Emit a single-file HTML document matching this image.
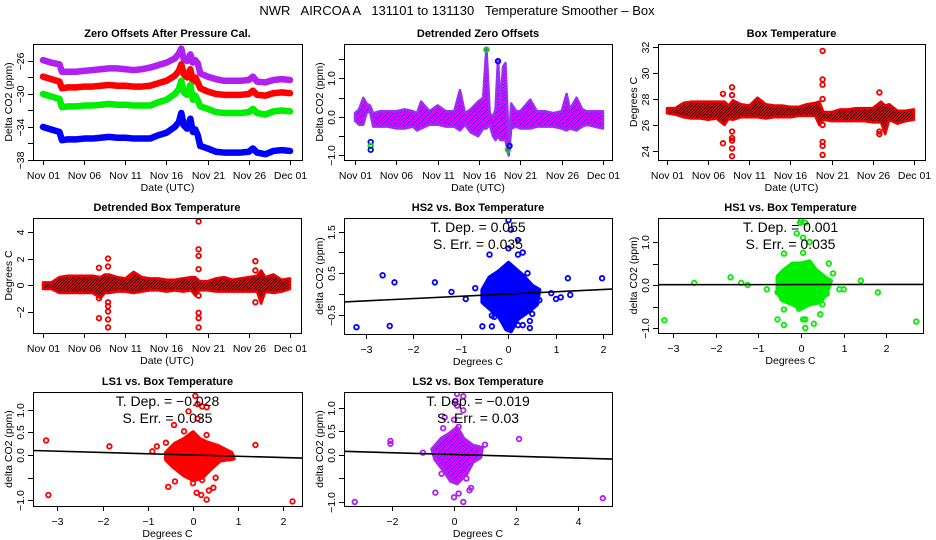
<!DOCTYPE html>
<html><head><meta charset="utf-8"><style>
html,body{margin:0;padding:0;background:#fff;}
svg{display:block;font-family:"Liberation Sans",sans-serif;}
</style></head><body>
<svg id="fig" width="936" height="540" viewBox="0 0 936 540" xmlns="http://www.w3.org/2000/svg">
<defs>
<pattern id="pRB" width="3" height="3" patternUnits="userSpaceOnUse"><rect width="3" height="3" fill="#e00000"/><rect x="1" y="1" width="1" height="1" fill="#000"/><rect x="2" y="0" width="1" height="1" fill="#000"/><rect x="0" y="2" width="1" height="1" fill="#000"/></pattern>
<pattern id="pPU" width="3" height="3" patternUnits="userSpaceOnUse"><rect width="3" height="3" fill="#ff00ff"/><rect x="1" y="1" width="1" height="1" fill="#3020ff"/><rect x="2" y="0" width="1" height="1" fill="#3020ff"/><rect x="0" y="2" width="1" height="1" fill="#3020ff"/></pattern>
</defs>
<text x="457" y="15" font-size="13" text-anchor="middle" style="white-space:pre" xml:space="preserve">NWR   AIRCOA A   131101 to 131130   Temperature Smoother – Box</text>
</svg>
<script>
// ---- data: zero offsets (panel 1) ----
const zoDays = [0,1,2,2.3,3,4,5,6,7,8,9,10,11,12,13,14,15,16,16.5,16.8,17.1,17.5,17.9,18.2,18.5,18.8,19.1,20,21,22,23,24,25,25.5,26,27,28,29,30];
const zoBlue = [-34,-34.3,-34.6,-35.6,-35.5,-35.5,-35.4,-35.4,-35.3,-35.2,-35.3,-35.3,-35.4,-35.4,-35.4,-35.0,-34.7,-34.0,-33.4,-32.3,-33.8,-34.2,-33.0,-34.6,-34.3,-35.0,-36.3,-36.6,-37.0,-37.1,-37.1,-37.1,-37.0,-36.6,-37.1,-37.3,-36.9,-36.8,-36.9];
const zoGreen = [-30,-30.3,-30.6,-31.6,-31.5,-31.5,-31.4,-31.4,-31.3,-31.2,-31.3,-31.3,-31.4,-31.4,-31.4,-31.0,-30.7,-30.0,-29.4,-28.4,-29.8,-30.1,-28.9,-30.7,-30.2,-30.8,-31.5,-31.8,-32.2,-32.3,-32.3,-32.3,-32.2,-31.8,-32.3,-32.5,-32.1,-32.0,-32.1];
const zoRed = [-27.9,-28.2,-28.5,-29.3,-29.2,-29.2,-29.1,-29.1,-29.0,-28.9,-29.0,-29.0,-29.1,-29.1,-29.0,-28.7,-28.4,-27.8,-27.2,-26.4,-27.6,-28.0,-27.0,-28.5,-28.0,-28.6,-29.3,-29.7,-30.0,-30.1,-30.1,-30.1,-30.0,-29.6,-30.1,-30.2,-29.9,-29.8,-29.9];
const zoPurple = [-25.9,-26.2,-26.4,-27.3,-27.3,-27.3,-27.2,-27.1,-27.0,-26.9,-26.9,-27.0,-27.1,-27.0,-26.8,-26.5,-26.2,-25.7,-25.1,-24.5,-25.8,-26.0,-25.2,-26.2,-25.9,-26.3,-27.5,-27.9,-28.2,-28.4,-28.4,-28.4,-28.3,-27.9,-28.5,-28.6,-28.3,-28.2,-28.3];
// ---- detrended zero offsets (panel 2) ----
const dzDays = [0,0.5,1.0,1.4,1.8,2.2,3,4,5,6,7,7.5,8,9,10,11,12,12.7,13.3,14,14.9,15.5,15.9,16.3,16.7,17.0,17.3,17.6,17.9,18.2,18.6,18.9,19.5,20,21.2,22,23,24,25,25.6,26,26.8,27.5,28,29,30];
const dzLo = [-0.1,-0.2,-0.2,0.1,0.15,-0.25,-0.25,-0.25,-0.3,-0.3,-0.25,-0.35,-0.3,-0.2,-0.2,-0.25,-0.25,-0.35,-0.2,-0.4,-0.5,-0.3,-0.3,-0.2,-0.5,-0.6,-0.5,-0.6,-0.6,-0.6,-1.0,-0.3,-0.25,-0.3,-0.3,-0.25,-0.25,-0.25,-0.3,-0.35,-0.3,-0.35,-0.25,-0.2,-0.25,-0.3];
const dzHi = [0.1,0.2,0.5,0.35,0.3,0.1,0.15,0.15,0.15,0.2,0.15,0.1,0.4,0.15,0.3,0.15,0.15,0.7,0.1,0.2,0.4,0.5,1.8,0.1,0.0,0.2,1.5,0.3,1.3,1.4,-0.7,0.35,0.15,0.15,0.45,0.15,0.15,0.1,0.15,0.6,0.2,0.5,0.2,0.15,0.15,0.15];
const dzOutDay = [1.9,1.9,1.9,15.9,17.3,18.5,18.7];
const dzOutVal = [-0.65,-0.75,-0.85,1.75,1.45,-0.85,-0.75];
// ---- box temperature (panel 3) ----
const btDays = [0,1,2,3,4,5,6,7,7.5,8,9,10,11,12,13,14,15,16,17,18,18.5,19,20,21,22,23,24,25,26,26.5,27,28,29,30];
const btLo = [26.9,26.8,26.6,26.5,26.5,26.4,26.5,26.0,26.5,26.4,26.6,26.6,26.6,26.5,26.6,26.6,26.6,26.7,26.7,26.7,26.0,26.4,26.3,26.3,26.3,26.3,26.3,26.2,26.2,25.3,26.4,26.1,26.3,26.4];
const btHi = [27.3,27.3,27.7,27.8,27.8,27.8,27.8,27.8,27.5,27.9,27.6,27.5,28.1,27.6,27.5,27.5,27.4,27.4,27.6,27.7,27.8,27.0,27.0,27.2,27.2,27.3,27.3,27.3,27.8,27.5,27.6,27.1,27.1,27.2];
const btOutDay = [6.8,6.8,7.9,7.9,7.9,7.9,7.9,7.9,7.9,18.9,18.9,18.9,18.9,18.9,18.9,18.9,18.9,25.8,25.8,25.8];
const btOutVal = [28.4,24.6,28.9,28.3,25.5,25.0,24.8,24.2,23.6,31.7,29.5,29.1,28.0,26.0,24.7,24.4,23.7,28.5,25.5,25.3];
// ---- detrended box temperature (panel 4) ----
const dbLo = [-0.3,-0.3,-0.6,-0.6,-0.6,-0.6,-0.6,-1.0,-0.6,-0.6,-0.5,-0.5,-0.6,-0.5,-0.4,-0.4,-0.5,-0.4,-0.5,-0.4,-0.8,-0.4,-0.4,-0.5,-0.5,-0.5,-0.5,-0.5,-0.5,-1.4,-0.5,-0.6,-0.5,-0.3];
const dbHi = [0.2,0.2,0.6,0.7,0.7,0.7,0.7,0.6,0.8,0.8,0.6,0.5,1.0,0.6,0.5,0.5,0.4,0.4,0.5,0.6,0.6,0.3,0.3,0.5,0.6,0.4,0.5,0.6,0.7,1.1,0.6,0.8,0.4,0.5];
const dbOutDay = [6.8,6.8,6.8,7.9,7.9,7.9,7.9,7.9,7.9,7.9,18.9,18.9,18.9,18.9,18.9,18.9,18.9,18.9,25.8,25.8,25.8];
const dbOutVal = [1.3,-2.5,-1.0,2.0,1.4,-1.3,-1.6,-2.0,-2.6,-3.2,4.8,2.7,2.2,1.2,-0.8,-2.1,-2.5,-3.2,1.8,1.1,-1.3];
// ---- scatter: HS2 ----
const hs2CoreX = [-0.55,-0.4,-0.2,0,0.15,0.3,0.5,0.65,0.6,0.45,0.2,0.05,-0.05,-0.2,-0.4,-0.55];
const hs2CoreY = [0.1,0.4,0.55,0.75,0.6,0.45,0.2,0.1,-0.25,-0.4,-0.6,-0.9,-0.85,-0.55,-0.35,-0.2];
const hs2X = [-3.2,-2.65,-2.5,-2.4,-1.55,-1.2,-0.9,-0.7,-0.55,-0.35,-0.4,0,0.05,0.2,0,0.2,0.3,0.4,0.2,0.3,0.45,0.45,0.5,0.65,0.9,1.0,1.1,1.25,1.3,1.97,-0.35,-0.3,0,0];
const hs2Y = [-0.8,0.45,-0.77,0.28,0.28,0.05,-0.12,0.14,-0.78,-0.78,0.95,1.78,1.55,1.3,1.1,0.95,1.0,0.5,-0.75,-0.75,-0.82,-0.65,-0.48,-0.15,0.02,-0.12,-0.08,0.38,-0.02,0.38,-0.52,-0.55,-0.8,-0.65];
const hs2Fit = [0.0, 0.055];
const hs2Stats = ["T. Dep. =  0.055", "S. Err. =  0.035"];
// ---- scatter: HS1 ----
const hs1CoreX = [-0.55,-0.4,-0.2,0,0.2,0.35,0.6,0.7,0.6,0.45,0.2,0,-0.2,-0.45,-0.55];
const hs1CoreY = [0.2,0.35,0.5,0.5,0.55,0.35,0.15,0.1,-0.2,-0.4,-0.45,-0.55,-0.45,-0.35,-0.15];
const hs1X = [-3.2,-2.5,-1.65,-1.4,-1.25,-0.8,-0.55,-0.55,-0.4,-0.4,-0.05,0.05,0.1,0.1,0.3,0.45,0.5,0.6,0.65,0.75,0.9,1.0,1.4,1.8,2.7,-0.4,-0.1,-0.02,0,0.1,0.05,0.2,0.05];
const hs1Y = [-0.82,0.05,0.18,0.05,0.0,-0.1,-0.17,-0.8,-0.57,-0.93,-0.55,-0.8,-0.8,-1.0,-0.9,-0.68,-0.45,-0.2,0.5,0.27,-0.1,-0.1,0.1,-0.17,-0.85,0.73,1.2,1.45,1.5,1.45,1.1,1.0,0.75];
const hs1Fit = [0.01, 0.001];
const hs1Stats = ["T. Dep. =  0.001", "S. Err. =  0.035"];
// ---- scatter: LS1 ----
const ls1CoreX = [-0.6,-0.4,-0.2,0,0.15,0.3,0.55,0.85,0.9,0.6,0.4,0.2,0,-0.2,-0.45,-0.6];
const ls1CoreY = [0.05,0.25,0.35,0.5,0.35,0.28,0.2,0.05,-0.08,-0.12,-0.3,-0.5,-0.55,-0.45,-0.25,-0.1];
const ls1X = [-3.25,-3.2,-1.85,-0.9,-0.8,-0.6,-0.55,-0.4,-0.42,-0.2,-0.1,0.05,0.1,0.1,0.2,0.3,0.3,0.08,0.18,0.2,0.3,0.35,0.45,0.5,0,1.38,2.2];
const ls1Y = [0.32,-0.88,0.19,0.08,0.19,0.27,-0.7,-0.58,0.66,0.52,0.96,1.3,1.12,0.8,1.07,1.05,0.44,-0.83,-0.88,-0.55,-0.98,-0.78,-0.72,-0.5,-0.62,0.22,-1.02];
const ls1Fit = [0.0, -0.028];
const ls1Stats = ["T. Dep. =  \u22120.028", "S. Err. =  0.035"];
// ---- scatter: LS2 ----
const ls2CoreX = [-0.7,-0.4,-0.15,0.1,0.3,0.6,0.9,0.85,0.6,0.4,0.1,-0.1,-0.3,-0.6];
const ls2CoreY = [0.12,0.35,0.45,0.58,0.35,0.2,0.15,-0.05,-0.15,-0.4,-0.6,-0.55,-0.35,-0.1];
const ls2X = [-3.2,-2.05,-2.05,-1.0,-0.6,-0.35,-0.3,-0.4,0,0.15,0.3,0.4,0.55,0.5,0,0.05,0.1,0.1,0.3,0.3,0.15,1.0,2.1,4.8];
const ls2Y = [-1.0,0.3,0.24,0.05,-0.8,0.57,0.8,-0.4,-0.9,-0.82,-1.0,-0.5,-0.7,-0.75,0.75,1.15,1.05,1.3,1.25,0.95,0.6,0.22,0.34,-0.92];
const ls2Fit = [0.01, -0.019];
const ls2Stats = ["T. Dep. =  \u22120.019", "S. Err. =  0.03"];
// ---- tick labels ----
const dateTicks = [0,5,10,15,20,25,30];
const dateLabels = ["Nov 01","Nov 06","Nov 11","Nov 16","Nov 21","Nov 26","Dec 01"];

const NS = "http://www.w3.org/2000/svg";
const svg = document.getElementById('fig');
function mk(tag, attrs, parent) {
  const e = document.createElementNS(NS, tag);
  for (const k in attrs) e.setAttribute(k, attrs[k]);
  (parent || svg).appendChild(e);
  return e;
}
function sx(p, v) { return p.x0 + (v - p.xmin) / (p.xmax - p.xmin) * (p.x1 - p.x0); }
function sy(p, v) { return p.y1 - (v - p.ymin) / (p.ymax - p.ymin) * (p.y1 - p.y0); }

function panel(name, box, dom, title, xlab, ylab) {
  const p = {x0: box[0], y0: box[1], x1: box[2], y1: box[3], xmin: dom[0], xmax: dom[1], ymin: dom[2], ymax: dom[3]};
  const g = mk('g', {});
  
  
  p.g = g;
  const t = mk('text', {x: (p.x0 + p.x1) / 2, y: p.y0 - 7, 'font-size': 11, 'font-weight': 'bold', 'text-anchor': 'middle'}, g);
  t.textContent = title;
  
  
  const xl = mk('text', {x: (p.x0 + p.x1) / 2, y: p.y1 + 31, 'font-size': 10.5, 'text-anchor': 'middle'}, g);
  xl.textContent = xlab;
  
  
  const yl = mk('text', {x: 0, y: 0, 'font-size': 10.5, 'text-anchor': 'middle', transform: `translate(${p.x0 - 21},${(p.y0 + p.y1) / 2}) rotate(-90)`}, g);
  yl.textContent = ylab;
  
  
  return p;
}
function frame(p) {
  const r = mk('rect', {x: p.x0 + 0.5, y: p.y0 + 0.5, width: p.x1 - p.x0, height: p.y1 - p.y0, fill: 'none', stroke: '#000', 'stroke-width': 1}, p.g);
  
  
}
function xAxis(p, ticks, labels) {
  const a = mk('line', {x1: sx(p, ticks[0]), x2: sx(p, ticks[ticks.length - 1]), y1: p.y1 + 0.5, y2: p.y1 + 0.5, stroke: '#000'}, p.g);
  
  
  ticks.forEach((v, i) => {
    const x = Math.round(sx(p, v)) + 0.5;
    const tk = mk('line', {x1: x, x2: x, y1: p.y1, y2: p.y1 + 5, stroke: '#000'}, p.g);
    
    
    if (labels[i] !== '') {
      const t = mk('text', {x: x, y: p.y1 + 19, 'font-size': 10.5, 'text-anchor': 'middle'}, p.g);
      t.textContent = labels[i];
      
      
    }
  });
}
function yAxis(p, ticks, labels) {
  const a = mk('line', {y1: sy(p, ticks[0]), y2: sy(p, ticks[ticks.length - 1]), x1: p.x0 + 0.5, x2: p.x0 + 0.5, stroke: '#000'}, p.g);
  
  
  ticks.forEach((v, i) => {
    const y = Math.round(sy(p, v)) + 0.5;
    const tk = mk('line', {y1: y, y2: y, x1: p.x0 - 5, x2: p.x0, stroke: '#000'}, p.g);
    
    
    if (labels[i] !== '') {
      const t = mk('text', {x: 0, y: 0, 'font-size': 10.5, 'text-anchor': 'middle', transform: `translate(${p.x0 - 9},${y}) rotate(-90)`}, p.g);
      t.textContent = labels[i];
      
      
    }
  });
}
function clip(p, id) {
  const cp = mk('clipPath', {id: id}, p.g);
  mk('rect', {x: p.x0, y: p.y0, width: p.x1 - p.x0, height: p.y1 - p.y0}, cp);
  const g = mk('g', {'clip-path': `url(#${id})`}, p.g);
  
  
  return g;
}
function pt(p, g, x, y, color) {
  const c = mk('circle', {cx: sx(p, x), cy: sy(p, y), r: 2.3, fill: 'none', stroke: color, 'stroke-width': 1.8}, g);
  
  
}
function band(p, g, xs, lo, hi, fill, stroke, nm) {
  let d = xs.map((x, i) => `${i ? 'L' : 'M'}${sx(p, x)},${sy(p, hi[i])}`).join(' ');
  for (let i = xs.length - 1; i >= 0; i--) d += ` L${sx(p, xs[i])},${sy(p, lo[i])}`;
  const b = mk('path', {d: d + ' Z', fill: fill, stroke: stroke, 'stroke-width': 2.5, 'stroke-linejoin': 'round'}, g);
  
  
}
function thickLine(p, g, xs, ys, color, nm) {
  const l = mk('polyline', {points: xs.map((x, i) => `${sx(p, x)},${sy(p, ys[i])}`).join(' '), fill: 'none', stroke: color, 'stroke-width': 6.5, 'stroke-linejoin': 'round', 'stroke-linecap': 'round'}, g);
  
  
}
function scatter(p, id, coreX, coreY, xs, ys, color, coreFill, fit, stats) {
  const g = clip(p, id);
  const d = coreX.map((x, i) => `${i ? 'L' : 'M'}${sx(p, x)},${sy(p, coreY[i])}`).join(' ') + ' Z';
  const c = mk('path', {d: d, fill: coreFill, stroke: color, 'stroke-width': 4, 'stroke-linejoin': 'round'}, g);
  
  
  xs.forEach((x, i) => pt(p, g, x, ys[i], color));
  const l = mk('line', {x1: sx(p, p.xmin), x2: sx(p, p.xmax), y1: sy(p, fit[0] + fit[1] * p.xmin), y2: sy(p, fit[0] + fit[1] * p.xmax), stroke: '#000', 'stroke-width': 1.6}, g);
  
  
  stats.forEach((s, i) => {
    const t = mk('text', {x: (p.x0 + p.x1) / 2, y: p.y0 + 14 + i * 17, 'font-size': 14, 'text-anchor': 'middle'}, p.g);
    t.textContent = s;
    
    
  });
}

// Panel 1
const p1 = panel('zero-offsets-panel', [33, 44, 302, 160], [-1.215, 31.46, -38.0, -23.94], 'Zero Offsets After Pressure Cal.', 'Date (UTC)', 'Delta CO2 (ppm)');
const g1 = clip(p1, 'c1');
thickLine(p1, g1, zoDays, zoPurple, '#b020f0', 'series-ls2');
thickLine(p1, g1, zoDays, zoRed, '#ff0000', 'series-ls1');
thickLine(p1, g1, zoDays, zoGreen, '#00ee00', 'series-hs1');
thickLine(p1, g1, zoDays, zoBlue, '#0000ff', 'series-hs2');
frame(p1);
xAxis(p1, dateTicks, dateLabels);
yAxis(p1, [-38, -36, -34, -32, -30, -28, -26], ['\u221238', '', '\u221234', '', '\u221230', '', '\u221226']);

// Panel 2
const p2 = panel('detrended-zero-offsets-panel', [344, 44, 612, 160], [-1.33, 31.09, -1.117, 1.896], 'Detrended Zero Offsets', 'Date (UTC)', 'Delta CO2 (ppm)');
const g2 = clip(p2, 'c2');
band(p2, g2, dzDays, dzLo, dzHi, 'url(#pPU)', '#9a30f0', 'detrended-band');
dzOutDay.forEach((d, i) => pt(p2, g2, d, dzOutVal[i], i % 2 ? '#00dd00' : '#0000ff'));
frame(p2);
xAxis(p2, dateTicks, dateLabels);
yAxis(p2, [-1, -0.5, 0, 0.5, 1, 1.5], ['\u22121.0', '', '0.0', '', '1.0', '']);

// Panel 3
const p3 = panel('box-temperature-panel', [658, 44, 925, 160], [-1.093, 31.34, 23.31, 32.23], 'Box Temperature', 'Date (UTC)', 'Degrees C');
const g3 = clip(p3, 'c3');
band(p3, g3, btDays, btLo, btHi, 'url(#pRB)', '#ee0000', 'temperature-band');
btOutDay.forEach((d, i) => pt(p3, g3, d, btOutVal[i], '#ee0000'));
frame(p3);
xAxis(p3, dateTicks, dateLabels);
yAxis(p3, [24, 26, 28, 30, 32], ['24', '26', '28', '30', '32']);

// Panel 4
const p4 = panel('detrended-box-temperature-panel', [33, 218, 301, 333], [-1.215, 31.34, -3.62, 5.06], 'Detrended Box Temperature', 'Date (UTC)', 'Degrees C');
const g4 = clip(p4, 'c4');
band(p4, g4, btDays, dbLo, dbHi, 'url(#pRB)', '#ee0000', 'temperature-band');
dbOutDay.forEach((d, i) => pt(p4, g4, d, dbOutVal[i], '#ee0000'));
frame(p4);
xAxis(p4, dateTicks, dateLabels);
yAxis(p4, [-2, 0, 2, 4], ['\u22122', '0', '2', '4']);

// Panel 5
const p5 = panel('hs2-vs-temp-panel', [344, 218, 612, 334], [-3.463, 2.179, -0.964, 1.831], 'HS2 vs. Box Temperature', 'Degrees C', 'delta CO2 (ppm)');
scatter(p5, 'c5', hs2CoreX, hs2CoreY, hs2X, hs2Y, '#0000ff', '#0000ff', hs2Fit, hs2Stats);
frame(p5);
xAxis(p5, [-3, -2, -1, 0, 1, 2], ['\u22123', '\u22122', '\u22121', '0', '1', '2']);
yAxis(p5, [-0.5, 0, 0.5, 1, 1.5], ['\u22120.5', '', '0.5', '', '1.5']);

// Panel 6
const p6 = panel('hs1-vs-temp-panel', [658, 218, 923, 333], [-3.349, 2.857, -1.116, 1.558], 'HS1 vs. Box Temperature', 'Degrees C', 'delta CO2 (ppm)');
scatter(p6, 'c6', hs1CoreX, hs1CoreY, hs1X, hs1Y, '#00ee00', '#00ee00', hs1Fit, hs1Stats);
frame(p6);
xAxis(p6, [-3, -2, -1, 0, 1, 2], ['\u22123', '\u22122', '\u22121', '0', '1', '2']);
yAxis(p6, [-1, -0.5, 0, 0.5, 1], ['\u22121.0', '', '0.0', '', '1.0']);

// Panel 7
const p7 = panel('ls1-vs-temp-panel', [33, 392, 302, 506], [-3.54, 2.41, -1.121, 1.385], 'LS1 vs. Box Temperature', 'Degrees C', 'delta CO2 (ppm)');
scatter(p7, 'c7', ls1CoreX, ls1CoreY, ls1X, ls1Y, '#ff0000', '#ff0000', ls1Fit, ls1Stats);
frame(p7);
xAxis(p7, [-3, -2, -1, 0, 1, 2], ['\u22123', '\u22122', '\u22121', '0', '1', '2']);
yAxis(p7, [-1, -0.5, 0, 0.5, 1], ['\u22121.0', '', '0.0', '0.5', '1.0']);

// Panel 8
const p8 = panel('ls2-vs-temp-panel', [344, 392, 612, 506], [-3.548, 5.097, -1.085, 1.34], 'LS2 vs. Box Temperature', 'Degrees C', 'delta CO2 (ppm)');
scatter(p8, 'c8', ls2CoreX, ls2CoreY, ls2X, ls2Y, '#b020f0', 'url(#pPU)', ls2Fit, ls2Stats);
frame(p8);
xAxis(p8, [-2, 0, 2, 4], ['\u22122', '0', '2', '4']);
yAxis(p8, [-1, -0.5, 0, 0.5, 1], ['\u22121.0', '', '0.0', '0.5', '1.0']);
</script>
</body></html>
